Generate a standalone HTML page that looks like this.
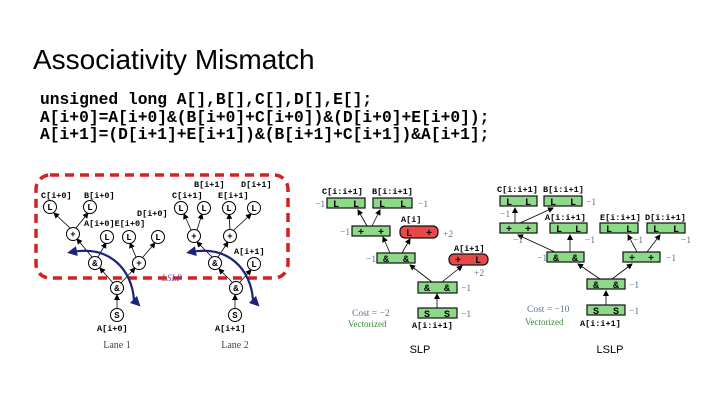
<!DOCTYPE html>
<html><head><meta charset="utf-8"><style>
html,body{margin:0;padding:0;background:#fff;width:720px;height:405px;overflow:hidden}
svg{display:block}
.m{font-family:"Liberation Mono",monospace;font-weight:bold}
.s{font-family:"Liberation Serif",serif}
.a{font-family:"Liberation Sans",sans-serif}
</style></head><body>
<svg width="720" height="405" viewBox="0 0 720 405" xmlns="http://www.w3.org/2000/svg">
<defs>
<marker id="ah" markerWidth="6" markerHeight="6" refX="5" refY="3" orient="auto" markerUnits="userSpaceOnUse"><path d="M0,0 L6,3 L0,6z" fill="#000"/></marker>
<marker id="bh" markerWidth="10" markerHeight="10" refX="5" refY="5" orient="auto" markerUnits="userSpaceOnUse"><path d="M0,0 L10,5 L0,10z" fill="#1a237e"/></marker>
</defs>
<text x="33" y="69" class="a" font-size="28" fill="#000">Associativity Mismatch</text>
<g class="m" font-size="16.3" fill="#000">
<text x="40" y="104">unsigned long A[],B[],C[],D[],E[];</text>
<text x="40" y="122">A[i+0]=A[i+0]&amp;(B[i+0]+C[i+0])&amp;(D[i+0]+E[i+0]);</text>
<text x="40" y="139">A[i+1]=(D[i+1]+E[i+1])&amp;(B[i+1]+C[i+1])&amp;A[i+1];</text>
</g>

<rect x="36" y="175" width="252" height="103" rx="14" fill="none" stroke="#d32020" stroke-width="3.5" stroke-dasharray="9,6"/>
<g stroke="#000" stroke-width="0.8" marker-end="url(#ah)">
<line x1="117" y1="309" x2="117" y2="295"/>
<line x1="113" y1="283" x2="100" y2="268"/>
<line x1="121" y1="283" x2="135" y2="268"/>
<line x1="92" y1="257" x2="77" y2="239"/>
<line x1="98" y1="257" x2="106" y2="243"/>
<line x1="70" y1="228" x2="54" y2="213"/>
<line x1="76" y1="228" x2="88" y2="213"/>
<line x1="136" y1="257" x2="130" y2="243"/>
<line x1="143" y1="257" x2="155" y2="243"/>
<line x1="235" y1="309" x2="235" y2="295"/>
<line x1="232" y1="282" x2="219" y2="269"/>
<line x1="240" y1="282" x2="251" y2="270"/>
<line x1="212" y1="257" x2="197" y2="242"/>
<line x1="218" y1="257" x2="228" y2="242"/>
<line x1="191" y1="230" x2="184" y2="214"/>
<line x1="197" y1="230" x2="202" y2="214"/>
<line x1="230" y1="230" x2="229" y2="214"/>
<line x1="234" y1="230" x2="251" y2="214"/>
</g>
<g fill="#fff" stroke="#000" stroke-width="1">
<circle cx="50" cy="207" r="6.5"/><circle cx="90" cy="207" r="6.5"/><circle cx="73" cy="234" r="6.5"/>
<circle cx="107" cy="237" r="6.5"/><circle cx="129" cy="237" r="6.5"/><circle cx="158" cy="237" r="6.5"/>
<circle cx="139" cy="263" r="6.5"/><circle cx="95" cy="263" r="6.5"/><circle cx="117" cy="288" r="6.5"/><circle cx="117" cy="315" r="6.5"/>
<circle cx="181" cy="208" r="6.5"/><circle cx="204" cy="208" r="6.5"/><circle cx="229" cy="208" r="6.5"/><circle cx="254" cy="208" r="6.5"/>
<circle cx="194" cy="236" r="6.5"/><circle cx="230" cy="236" r="6.5"/><circle cx="215" cy="263" r="6.5"/><circle cx="254" cy="264" r="6.5"/>
<circle cx="236" cy="288" r="6.5"/><circle cx="235" cy="315" r="6.5"/>
</g>
<g class="m" font-size="9" text-anchor="middle" fill="#000">
<text x="50" y="210">L</text><text x="90" y="210">L</text><text x="73" y="237">+</text>
<text x="107" y="240">L</text><text x="129" y="240">L</text><text x="158" y="240">L</text>
<text x="139" y="266">+</text><text x="95" y="266">&amp;</text><text x="117" y="291">&amp;</text><text x="117" y="318">S</text>
<text x="181" y="211">L</text><text x="204" y="211">L</text><text x="229" y="211">L</text><text x="254" y="211">L</text>
<text x="194" y="239">+</text><text x="230" y="239">+</text><text x="215" y="266">&amp;</text><text x="254" y="267">L</text>
<text x="236" y="291">&amp;</text><text x="235" y="318">S</text>
</g>
<g class="m" font-size="8.5" fill="#000">
<text x="41" y="198">C[i+0]</text><text x="84" y="198">B[i+0]</text>
<text x="137" y="216">D[i+0]</text><text x="84" y="226">A[i+0]E[i+0]</text>
<text x="194" y="187">B[i+1]</text><text x="241" y="187">D[i+1]</text>
<text x="172" y="198">C[i+1]</text><text x="218" y="198">E[i+1]</text>
<text x="234" y="254">A[i+1]</text>
<text x="97" y="331">A[i+0]</text><text x="215" y="331">A[i+1]</text>
</g>
<g class="s" font-size="10" fill="#444" text-anchor="middle"><text x="117" y="348">Lane 1</text><text x="235" y="348">Lane 2</text></g>
<text x="162" y="281" class="s" font-size="9" font-style="italic" fill="#7040a0">LSLP</text>
<g fill="none" stroke="#1a237e" stroke-width="2.2">
<path d="M134,300 C132,270 110,245 72,252" marker-end="url(#bh)"/>
<path d="M134,300 L137,303" marker-end="url(#bh)"/>
<path d="M253,300 C251,270 229,245 191,252" marker-end="url(#bh)"/>
<path d="M253,300 L256,303" marker-end="url(#bh)"/>
</g>

<g stroke="#000" stroke-width="0.8" marker-end="url(#ah)">
<line x1="437" y1="308" x2="437" y2="294"/>
<line x1="432" y1="282" x2="410" y2="265"/>
<line x1="442" y1="282" x2="462" y2="266"/>
<line x1="390" y1="253" x2="383" y2="237"/>
<line x1="402" y1="253" x2="410" y2="239"/>
<line x1="367" y1="226" x2="358" y2="210"/>
<line x1="372" y1="226" x2="380" y2="210"/>
</g>
<g stroke="#111" stroke-width="1.2" fill="#8ed88a">
<rect x="327" y="198" width="38" height="10"/><rect x="373" y="198" width="39" height="10"/>
<rect x="352" y="226" width="38" height="10"/><rect x="377" y="253" width="38" height="10"/>
<rect x="418" y="282" width="39" height="11"/><rect x="418" y="308" width="39" height="10"/>
<rect x="400" y="226" width="38" height="12" rx="5" fill="#e8484a"/>
<rect x="449" y="254" width="39" height="11" rx="5" fill="#e8484a"/>
</g>
<g stroke="#000" stroke-width="0.8" marker-end="url(#ah)">
<line x1="606" y1="305" x2="606" y2="291"/>
<line x1="600" y1="279" x2="578" y2="264"/>
<line x1="612" y1="279" x2="632" y2="264"/>
<line x1="555" y1="252" x2="518" y2="235"/>
<line x1="570" y1="252" x2="570" y2="235"/>
<line x1="637" y1="252" x2="628" y2="235"/>
<line x1="647" y1="252" x2="660" y2="235"/>
<line x1="515" y1="223" x2="515" y2="208"/>
<line x1="520" y1="223" x2="553" y2="208"/>
</g>
<g stroke="#111" stroke-width="1.2" fill="#8ed88a">
<rect x="500" y="196" width="37" height="10"/><rect x="544" y="196" width="38" height="10"/>
<rect x="500" y="223" width="37" height="10"/><rect x="550" y="223" width="37" height="10"/>
<rect x="600" y="223" width="38" height="10"/><rect x="647" y="223" width="38" height="10"/>
<rect x="547" y="252" width="37" height="10"/><rect x="623" y="252" width="37" height="10"/>
<rect x="587" y="279" width="38" height="10"/><rect x="587" y="305" width="38" height="10"/>
</g>
<g class="m" font-size="10" fill="#000" text-anchor="middle">
<text x="336" y="207">L</text><text x="356" y="207">L</text>
<text x="382" y="207">L</text><text x="403" y="207">L</text>
<text x="361" y="235">+</text><text x="381" y="235">+</text>
<text x="409" y="236">L</text><text x="429" y="236">+</text>
<text x="386" y="262">&amp;</text><text x="406" y="262">&amp;</text>
<text x="458" y="263">+</text><text x="478" y="263">L</text>
<text x="427" y="291">&amp;</text><text x="447" y="291">&amp;</text>
<text x="427" y="317">S</text><text x="447" y="317">S</text>
<text x="509" y="205">L</text><text x="528" y="205">L</text>
<text x="553" y="205">L</text><text x="573" y="205">L</text>
<text x="509" y="232">+</text><text x="528" y="232">+</text>
<text x="559" y="232">L</text><text x="578" y="232">L</text>
<text x="609" y="232">L</text><text x="629" y="232">L</text>
<text x="656" y="232">L</text><text x="676" y="232">L</text>
<text x="556" y="261">&amp;</text><text x="575" y="261">&amp;</text>
<text x="632" y="261">+</text><text x="651" y="261">+</text>
<text x="596" y="288">&amp;</text><text x="616" y="288">&amp;</text>
<text x="596" y="314">S</text><text x="616" y="314">S</text>
</g>
<g class="m" font-size="8.5" fill="#000">
<text x="322" y="194">C[i:i+1]</text><text x="372" y="194">B[i:i+1]</text>
<text x="401" y="222">A[i]</text><text x="454" y="251">A[i+1]</text>
<text x="412" y="328">A[i:i+1]</text>
<text x="497" y="192">C[i:i+1]</text><text x="543" y="192">B[i:i+1]</text>
<text x="545" y="220">A[i:i+1]</text><text x="600" y="220">E[i:i+1]</text><text x="645" y="220">D[i:i+1]</text>
<text x="580" y="326">A[i:i+1]</text>
</g>
<g class="s" font-size="9.5" fill="#5a7090">
<text x="315" y="207">−1</text><text x="418" y="207">−1</text><text x="340" y="235">−1</text><text x="443" y="237">+2</text>
<text x="366" y="262">−1</text><text x="474" y="276">+2</text><text x="461" y="291">−1</text><text x="461" y="317">−1</text>
<text x="586" y="205">−1</text><text x="500" y="217">−1</text><text x="513" y="243">−1</text><text x="585" y="243">−1</text>
<text x="633" y="243">−1</text><text x="681" y="243">−1</text><text x="537" y="261">−1</text><text x="666" y="261">−1</text>
<text x="629" y="288">−1</text><text x="629" y="314">−1</text>
<text x="352" y="316">Cost = −2</text><text x="527" y="312">Cost = −10</text>
</g>
<g class="s" font-size="9" fill="#3a8a3a"><text x="348" y="327">Vectorized</text><text x="525" y="325">Vectorized</text></g>
<g class="a" font-size="11" fill="#000" text-anchor="middle"><text x="420" y="353">SLP</text><text x="610" y="353">LSLP</text></g>
</svg>
</body></html>
